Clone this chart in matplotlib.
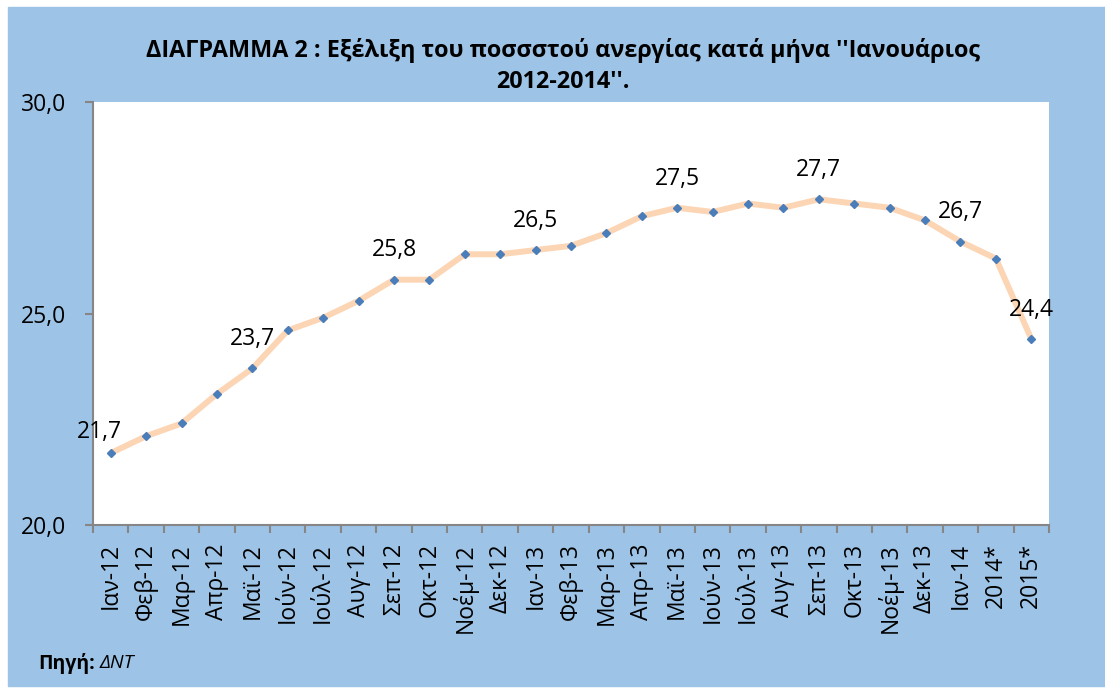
import numpy as np
import matplotlib
matplotlib.use("Agg")
import matplotlib.pyplot as plt
from matplotlib.patches import Rectangle

plt.rcParams['font.family'] = ['Open Sans', 'DejaVu Sans']

# data
months = ['Ιαν-12', 'Φεβ-12', 'Μαρ-12', 'Απρ-12', 'Μαϊ-12', 'Ιούν-12', 'Ιούλ-12',
          'Αυγ-12', 'Σεπ-12', 'Οκτ-12', 'Νοέμ-12', 'Δεκ-12', 'Ιαν-13', 'Φεβ-13',
          'Μαρ-13', 'Απρ-13', 'Μαϊ-13', 'Ιούν-13', 'Ιούλ-13', 'Αυγ-13', 'Σεπ-13',
          'Οκτ-13', 'Νοέμ-13', 'Δεκ-13', 'Ιαν-14', '2014*', '2015*']
rate = [21.7, 22.1, 22.4, 23.1, 23.7, 24.6, 24.9, 25.3, 25.8, 25.8, 26.4, 26.4,
        26.5, 26.6, 26.9, 27.3, 27.5, 27.4, 27.6, 27.5, 27.7, 27.6, 27.5,
        27.2, 26.7, 26.3, 24.4]
labelled = [0, 4, 8, 12, 16, 20, 24, 26]
yticks = [20, 25, 30]

title = ("ΔΙΑΓΡΑΜΜΑ 2 : Εξέλιξη του ποσσστού ανεργίας κατά μήνα ''Ιανουάριος\n"
         "2012-2014''.")

W, H = 1105, 689
fig = plt.figure(figsize=(W / 100, H / 100), dpi=100)
fig.patches.append(Rectangle((8 / W, 1 - 686 / H), (W - 8) / W, (686 - 7) / H,
                             transform=fig.transFigure, color='#9DC3E6', zorder=-5))

ax = fig.add_axes([93 / W, 1 - 525 / H, (1049 - 93) / W, (525 - 102) / H])
ax.set_facecolor('white')

x = np.arange(len(months))
ax.plot(x, rate, color='#FCD5B5', lw=4.3, zorder=2, solid_capstyle='round')
ax.plot(x, rate, ls='none', marker='D', ms=4.5, color='#4A7EBB', zorder=3)

for i in labelled:
    # first label sits a bit lower/left, like excel's clipping
    dx, dy = (-8, 15) if i == 0 else (0, 21)
    ax.annotate(f"{rate[i]:.1f}".replace('.', ','), (x[i], rate[i]),
                xytext=(dx, dy), textcoords='offset points',
                ha='center', va='center', fontsize=16.5, color='black', zorder=4)

ax.set_xlim(-0.5, len(months) - 0.5)
ax.set_ylim(20, 30)

# ticks between categories, labels at centres
ax.set_xticks(np.arange(-0.5, len(months), 1))
ax.set_xticklabels([])
ax.set_xticks(x, minor=True)
ax.set_xticklabels(months, minor=True, rotation=90, fontsize=16.5)
ax.tick_params(axis='x', which='major', length=6, width=1.5, color='#868686')
ax.tick_params(axis='x', which='minor', length=0, pad=13)

ax.set_yticks(yticks)
ax.set_yticklabels([f"{v:.1f}".replace('.', ',') for v in yticks], fontsize=16.5)
ax.tick_params(axis='y', length=6, width=1.5, color='#868686', pad=13)

for s in ['top', 'right']:
    ax.spines[s].set_visible(False)
for s in ['left', 'bottom']:
    ax.spines[s].set_color('#868686')
    ax.spines[s].set_linewidth(1.5)

fig.text(563 / W, 1 - 66 / H, title, ha='center', va='center', fontsize=16.8,
         fontweight='bold', linespacing=1.35)

fig.text(38 / W, 1 - 663 / H, 'Πηγή:', ha='left', va='center', fontsize=14,
         fontweight='bold')
fig.text(100 / W, 1 - 663 / H, 'ΔΝΤ', ha='left', va='center', fontsize=14,
         fontstyle='italic')

fig.savefig('out.png', dpi=100)
